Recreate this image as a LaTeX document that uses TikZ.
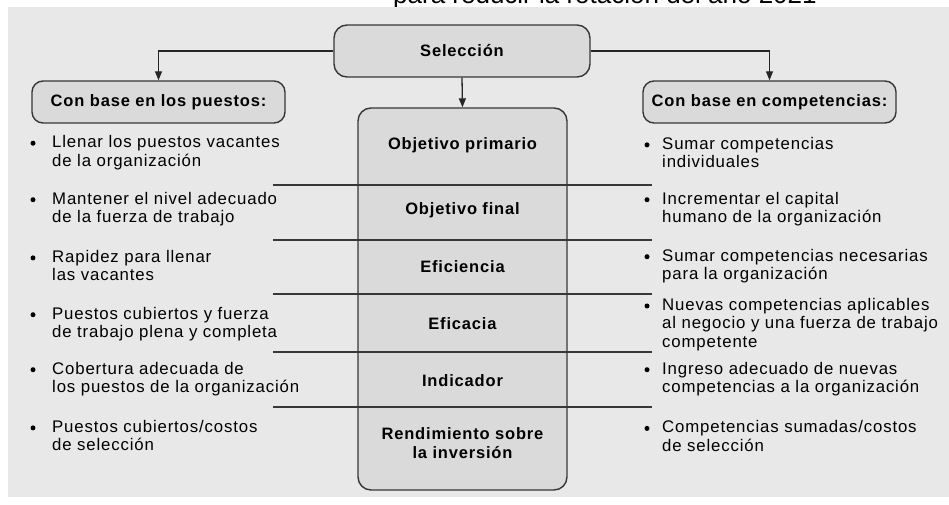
\documentclass[tikz,border=0pt]{standalone}
\usepackage{fontspec}
\setmainfont{Liberation Sans}[LetterSpace=5.0]
\newfontfamily\plainfont{Liberation Sans}
\usetikzlibrary{arrows.meta}
\definecolor{panelgray}{RGB}{232,232,232}
\definecolor{boxgray}{RGB}{218,218,218}
\definecolor{edgegray}{RGB}{55,55,55}
\begin{document}
\begin{tikzpicture}[x=1pt, y=-1pt,
  box/.style={draw=edgegray, fill=boxgray, line width=1.4pt, rounded corners=13pt,
    font=\bfseries\fontsize{16.5}{18.5}\selectfont},
  head/.style={font=\bfseries\fontsize{16.5}{18.5}\selectfont, align=center},
  item/.style={anchor=west, align=left, inner sep=0pt, font=\fontsize{16.8}{18.5}\selectfont},
  arr/.style={-{Triangle[length=9pt,width=7pt]}, line width=1.3pt, draw=black!85}]
\useasboundingbox (0,0) rectangle (949,505);
\node[anchor=base west, inner sep=0pt, font=\plainfont\fontsize{26}{30}\selectfont] (ttl) at (393,3.5) {para reducir la rotación del año 2021};
\fill[panelgray] (8,7) rectangle (949,497);
% boxes
\node[box, minimum width=256pt, minimum height=52pt] (sel) at (462,51) {Selección};
\node[box, minimum width=253pt, minimum height=42pt, rounded corners=11pt] (base1) at (158.5,102) {Con base en los puestos:};
\node[box, minimum width=253pt, minimum height=42pt, rounded corners=11pt] (base2) at (769.5,102) {Con base en competencias:};
\node[box, minimum width=209pt, minimum height=382pt] (col) at (462.5,299) {};
\draw[arr] (sel.west) -| (base1.north);
\draw[arr] (sel.east) -| (base2.north);
\draw[arr] (sel.south) -- (col.north);
\foreach \y in {185,240,294,352,407}
\draw[line width=1.2pt, edgegray] (273,\y) -- (652,\y);
% middle column
\foreach \y/\t [count=\i] in {145/Objetivo primario, 210/Objetivo final, 267/Eficiencia,
  324/Eficacia, 381/Indicador, 443/{Rendimiento sobre\\la inversión}}
\node[head] (m\i) at (462.5,\y) {\t};
% left list
\foreach \y/\t [count=\i] in {152.5/{Llenar los puestos vacantes\\de la organización},
  209/{Mantener el nivel adecuado\\de la fuerza de trabajo},
  265.5/{Rapidez para llenar\\las vacantes},
  324/{Puestos cubiertos y fuerza\\de trabajo plena y completa},
  379/{Cobertura adecuada de\\los puestos de la organización},
  435.5/{Puestos cubiertos/costos\\de selección}} {
\node[item] (pl\i) at (52,\y) {\t};
\fill (pl\i.north west) ++(-19,8) circle (2.5pt);}
% right list
\foreach \y/\t [count=\i] in {152.5/{Sumar competencias\\individuales},
  209/{Incrementar el capital\\humano de la organización},
  266/{Sumar competencias necesarias\\para la organización},
  324.5/{Nuevas competencias aplicables\\al negocio y una fuerza de trabajo\\competente},
  379/{Ingreso adecuado de nuevas\\competencias a la organización},
  436/{Competencias sumadas/costos\\de selección}} {
\node[item] (pr\i) at (662,\y) {\t};
\fill (pr\i.north west) ++(-15,8) circle (2.5pt);}
\end{tikzpicture}
\end{document}
